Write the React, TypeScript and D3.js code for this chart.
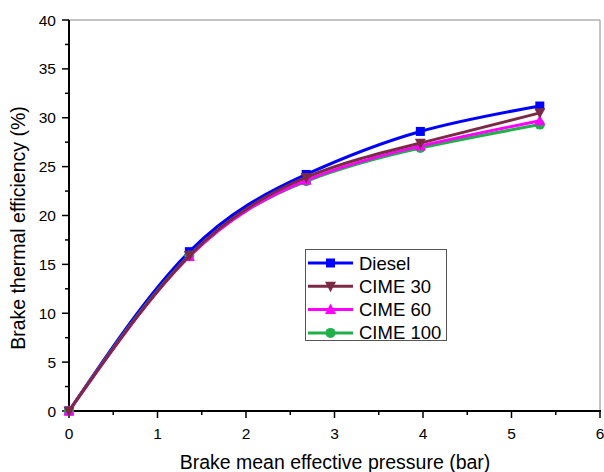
import React, { useRef, useEffect } from "react";
import * as d3 from "d3";

const bmep = [0, 1.36, 2.68, 3.97, 5.32];
const diesel = [0, 16.3, 24.2, 28.6, 31.2];
const cime30 = [0, 15.9, 23.9, 27.4, 30.5];
const cime60 = [0, 15.8, 23.6, 27.1, 29.7];
const cime100 = [0, 15.9, 23.5, 26.9, 29.3];
const xTicks = [0, 1, 2, 3, 4, 5, 6];
const yTicks = [0, 5, 10, 15, 20, 25, 30, 35, 40];

const seriesList = [
	{ name: "Diesel", values: diesel, color: "#0000ff", marker: "square" },
	{ name: "CIME 30", values: cime30, color: "#7b2a45", marker: "down" },
	{ name: "CIME 60", values: cime60, color: "#ff00ff", marker: "up" },
	{ name: "CIME 100", values: cime100, color: "#1fb04a", marker: "circle" },
];
// draw order: later ones on top
const drawOrder = [0, 3, 2, 1];

const App = () => {
	const svgRef = useRef<SVGSVGElement>(null);
	const width = 604;
	const height = 472;
	const left = 69, right = 600, top = 20, bottom = 411;

	useEffect(() => {
		const svg = d3.select(svgRef.current);
		svg.selectChildren().remove();
		const font = "Arial, 'Liberation Sans', sans-serif";

		const x = d3.scaleLinear().domain([0, 6]).range([left, right]);
		const y = d3.scaleLinear().domain([0, 40]).range([bottom, top]);

		// frame (top, right)
		svg.append("path")
			.attr("d", `M${left},${top}H${right}V${bottom}`)
			.attr("fill", "none")
			.attr("stroke", "#8a8a8a")
			.attr("stroke-width", 1);

		// x axis
		const xg = svg.append("g").attr("transform", `translate(0,${bottom})`);
		const xMinor = d3.range(0.5, 6, 1);
		xg.selectAll("line.minor").data(xMinor).join("line")
			.attr("x1", d => x(d)).attr("x2", d => x(d))
			.attr("y1", 0).attr("y2", 4)
			.attr("stroke", "#000").attr("stroke-width", 1.5);
		xg.selectAll("line.major").data(xTicks).join("line")
			.attr("x1", d => x(d)).attr("x2", d => x(d))
			.attr("y1", 0).attr("y2", 7)
			.attr("stroke", "#000").attr("stroke-width", 1.5);
		xg.selectAll("text").data(xTicks).join("text")
			.attr("x", d => x(d)).attr("y", 28)
			.attr("text-anchor", "middle")
			.style("font-family", font).style("font-size", "15.5px")
			.text(d => d);
		xg.append("line")
			.attr("x1", left).attr("x2", right + 1)
			.attr("stroke", "#000").attr("stroke-width", 2);

		// y axis
		const yg = svg.append("g").attr("transform", `translate(${left},0)`);
		const yMinor = d3.range(2.5, 40, 5);
		yg.selectAll("line.minor").data(yMinor).join("line")
			.attr("y1", d => y(d)).attr("y2", d => y(d))
			.attr("x1", 0).attr("x2", -4)
			.attr("stroke", "#000").attr("stroke-width", 1.5);
		yg.selectAll("line.major").data(yTicks).join("line")
			.attr("y1", d => y(d)).attr("y2", d => y(d))
			.attr("x1", 0).attr("x2", -7)
			.attr("stroke", "#000").attr("stroke-width", 1.5);
		yg.selectAll("text").data(yTicks).join("text")
			.attr("x", -13).attr("y", d => y(d) + 5.5)
			.attr("text-anchor", "end")
			.style("font-family", font).style("font-size", "15.5px")
			.text(d => d);
		yg.append("line")
			.attr("y1", top).attr("y2", bottom + 1)
			.attr("stroke", "#000").attr("stroke-width", 2);

		// axis titles
		svg.append("text")
			.attr("x", 335).attr("y", 469)
			.attr("text-anchor", "middle")
			.style("font-family", font).style("font-size", "19.5px")
			.text("Brake mean effective pressure (bar)");
		svg.append("text")
			.attr("transform", `translate(24.5, 228) rotate(-90)`)
			.attr("text-anchor", "middle")
			.style("font-family", font).style("font-size", "19.5px")
			.text("Brake thermal efficiency (%)");

		const drawMarker = (g, marker, cx, cy, color) => {
			if (marker === "square") {
				g.append("rect").attr("x", cx - 4.5).attr("y", cy - 4.5)
					.attr("width", 9).attr("height", 9).attr("fill", color);
			} else if (marker === "circle") {
				g.append("circle").attr("cx", cx).attr("cy", cy).attr("r", 5).attr("fill", color);
			} else if (marker === "down") {
				g.append("path").attr("d", `M${cx - 5.5},${cy - 4.5}L${cx + 5.5},${cy - 4.5}L${cx},${cy + 6}Z`).attr("fill", color);
			} else {
				g.append("path").attr("d", `M${cx - 5.5},${cy + 4.5}L${cx + 5.5},${cy + 4.5}L${cx},${cy - 6}Z`).attr("fill", color);
			}
		};

		const line = d3.line<number>()
			.x((d, i) => x(bmep[i]))
			.y(d => y(d))
			.curve(d3.curveNatural);

		const plot = svg.append("g");
		drawOrder.forEach(k => {
			const s = seriesList[k];
			plot.append("path")
				.datum(s.values)
				.attr("fill", "none")
				.attr("stroke", s.color)
				.attr("stroke-width", 3)
				.attr("d", line);
			s.values.forEach((v, i) => drawMarker(plot, s.marker, x(bmep[i]), y(v), s.color));
		});

		// legend
		const lg = svg.append("g");
		lg.append("rect")
			.attr("x", 305.5).attr("y", 249.5).attr("width", 141).attr("height", 91)
			.attr("fill", "#fff").attr("stroke", "#555").attr("stroke-width", 1);
		seriesList.forEach((s, i) => {
			const ly = 263 + i * 23.3;
			lg.append("line")
				.attr("x1", 308).attr("x2", 353).attr("y1", ly).attr("y2", ly)
				.attr("stroke", s.color).attr("stroke-width", 3);
			drawMarker(lg, s.marker, 330.5, ly, s.color);
			lg.append("text")
				.attr("x", 359).attr("y", ly + 6.5)
				.style("font-family", font).style("font-size", "18.5px")
				.text(s.name);
		});
	});

	return (
		<div style={{ position: "fixed", left: 0, top: 0 }}>
			<svg ref={svgRef} width={width} height={height} style={{ display: "block", background: "#fff" }}>
			</svg>
		</div>
	);
};

export default App;
